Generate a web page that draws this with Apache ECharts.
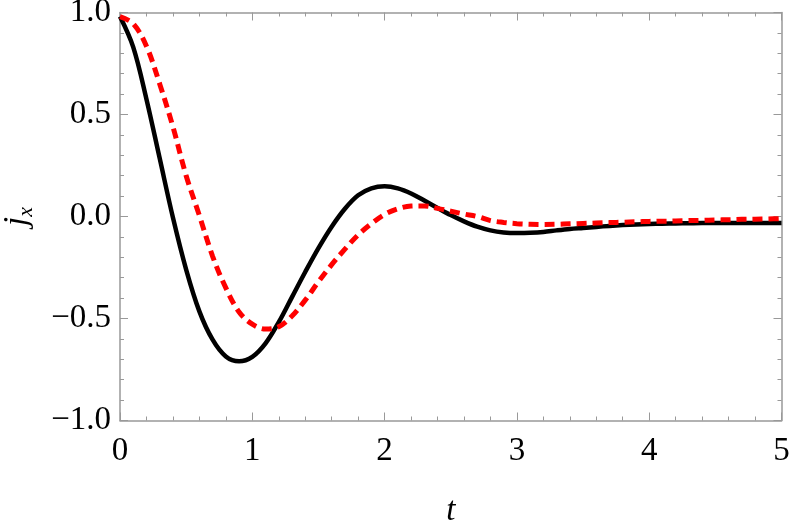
<!DOCTYPE html>
<html>
<head>
<meta charset="utf-8">
<script src="https://cdn.jsdelivr.net/npm/echarts@6/dist/echarts.min.js"></script>
<style>
html,body{margin:0;padding:0;background:#fff;}
#chart{width:789px;height:523px;}
</style>
</head>
<body>
<div id="chart"></div>
<script>
// time samples (step 0.1)
var tValues = [0.0, 0.1, 0.2, 0.3, 0.4, 0.5, 0.6, 0.7, 0.8, 0.9,
               1.0, 1.1, 1.2, 1.3, 1.4, 1.5, 1.6, 1.7, 1.8, 1.9,
               2.0, 2.1, 2.2, 2.3, 2.4, 2.5, 2.6, 2.7, 2.8, 2.9,
               3.0, 3.1, 3.2, 3.3, 3.4, 3.5, 3.6, 3.7, 3.8, 3.9,
               4.0, 4.1, 4.2, 4.3, 4.4, 4.5, 4.6, 4.7, 4.8, 4.9, 5.0];
// solid black curve
var blackValues = [0.98, 0.83, 0.575, 0.285, -0.005, -0.26, -0.465, -0.604, -0.686, -0.71,
                   -0.688, -0.622, -0.518, -0.395, -0.272, -0.155, -0.05, 0.038, 0.104, 0.138,
                   0.148, 0.138, 0.113, 0.078, 0.042, 0.007, -0.024, -0.05, -0.068, -0.078,
                   -0.081, -0.08, -0.076, -0.068, -0.061, -0.056, -0.051, -0.046, -0.042, -0.039,
                   -0.037, -0.035, -0.034, -0.033, -0.032, -0.032, -0.032, -0.032, -0.032, -0.032, -0.032];
// dashed red curve
var redValues = [0.98, 0.945, 0.835, 0.65, 0.44, 0.20, 0.005, -0.195, -0.35, -0.468,
                 -0.528, -0.552, -0.54, -0.488, -0.41, -0.32, -0.236, -0.16, -0.09, -0.035,
                 0.01, 0.038, 0.051, 0.052, 0.04, 0.026, 0.012, 0.0, -0.02, -0.029,
                 -0.035, -0.038, -0.039, -0.038, -0.036, -0.034, -0.032, -0.03, -0.028, -0.026,
                 -0.024, -0.023, -0.022, -0.02, -0.019, -0.017, -0.016, -0.014, -0.013, -0.012, -0.01];
var xTicks = [0, 1, 2, 3, 4, 5];
var yTicks = [-1.0, -0.5, 0.0, 0.5, 1.0];

function pairs(ys) { return tValues.map(function (t, i) { return [t, ys[i]]; }); }
function fmtY(v) {
  var s = Math.abs(v).toFixed(1);
  return v < 0 ? '\u2212' + s : s;
}

var frameColor = '#999999';
var serif = "'Liberation Serif', 'Times New Roman', serif";

var chart = echarts.init(document.getElementById('chart'), null, {renderer: 'canvas'});

function xAxisCfg(pos, showLabels) {
  return {
    type: 'value', position: pos, min: xTicks[0], max: xTicks[xTicks.length - 1], interval: 1,
    axisLine: {show: true, onZero: false, lineStyle: {color: frameColor, width: 1.5}},
    axisTick: {show: true, inside: true, length: 8, lineStyle: {color: frameColor, width: 1}},
    minorTick: {show: true, splitNumber: 5, length: 4, lineStyle: {color: frameColor, width: 1}},
    splitLine: {show: false},
    axisLabel: {show: showLabels, margin: 14, fontFamily: serif, fontSize: 33, color: '#000',
      formatter: function (v) { return String(v); }},
    name: showLabels ? 't' : '', nameLocation: 'middle', nameGap: 74,
    nameTextStyle: {fontFamily: serif, fontStyle: 'italic', fontSize: 33, color: '#000'}
  };
}
function yAxisCfg(pos, showLabels) {
  return {
    type: 'value', position: pos, min: yTicks[0], max: yTicks[yTicks.length - 1], interval: 0.5,
    axisLine: {show: true, onZero: false, lineStyle: {color: frameColor, width: 1.5}},
    axisTick: {show: true, inside: true, length: 8, lineStyle: {color: frameColor, width: 1}},
    minorTick: {show: true, splitNumber: 5, length: 4, lineStyle: {color: frameColor, width: 1}},
    splitLine: {show: false},
    axisLabel: {show: showLabels, margin: 9, fontFamily: serif, fontSize: 33, color: '#000', formatter: fmtY},
    name: showLabels ? '{j|j}{s|x}' : '', nameLocation: 'middle', nameGap: 83, nameRotate: 90,
    nameTextStyle: {
      fontFamily: serif, color: '#000',
      rich: {
        j: {fontFamily: serif, fontStyle: 'italic', fontSize: 33, color: '#000', lineHeight: 40, verticalAlign: 'middle'},
        s: {fontFamily: serif, fontStyle: 'italic', fontSize: 22, color: '#000', lineHeight: 40, verticalAlign: 'bottom', padding: [14, 0, 0, 0]}
      }
    }
  };
}

chart.setOption({
  animation: false,
  backgroundColor: '#fff',
  grid: {left: 120, right: 7.5, top: 12.5, bottom: 102.5, containLabel: false, outerBoundsMode: 'none'},
  xAxis: [xAxisCfg('bottom', true), xAxisCfg('top', false)],
  yAxis: [yAxisCfg('left', true), yAxisCfg('right', false)],
  series: [
    {
      type: 'line', name: 'black', xAxisIndex: 0, yAxisIndex: 0, data: pairs(blackValues),
      smooth: 0.35, showSymbol: false, symbol: 'none',
      lineStyle: {color: '#000', width: 4.5}
    },
    {
      type: 'line', name: 'red', xAxisIndex: 0, yAxisIndex: 0, data: pairs(redValues),
      smooth: 0.35, showSymbol: false, symbol: 'none',
      lineStyle: {color: '#ff0000', width: 5, type: [10, 6]}
    }
  ]
});
</script>
</body>
</html>
